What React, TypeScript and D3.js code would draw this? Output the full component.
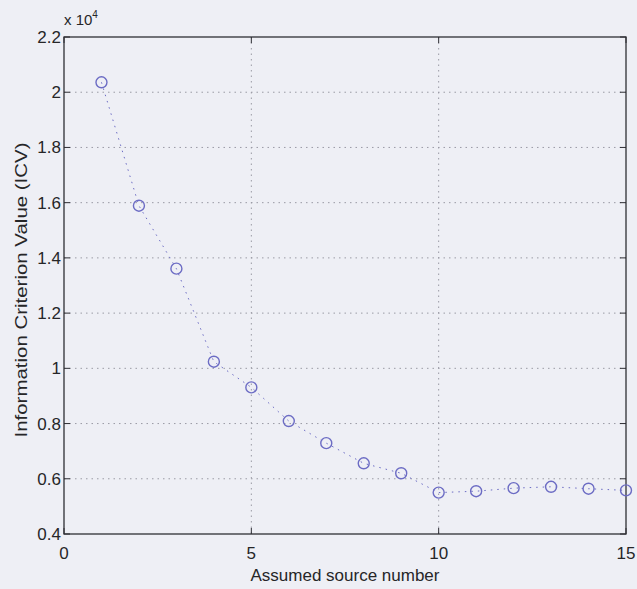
import React from "react";
import * as d3 from "d3";

const sourceNumbers = [1, 2, 3, 4, 5, 6, 7, 8, 9, 10, 11, 12, 13, 14, 15];
const icvValues = [20360, 15890, 13610, 10240, 9310, 8090, 7290, 6560, 6200, 5500, 5550, 5660, 5710, 5640, 5580];
const xTicks = [0, 5, 10, 15];
const yTicks = [4000, 6000, 8000, 10000, 12000, 14000, 16000, 18000, 20000, 22000];
const yTickLabels = ["0.4", "0.6", "0.8", "1", "1.2", "1.4", "1.6", "1.8", "2", "2.2"];

const W = 637, H = 589;
const L = 64, R = 626, T = 37, B = 534;
const font = "'Liberation Sans', Arial, sans-serif";

export default function App() {
  const x = d3.scaleLinear().domain([0, 15]).range([L, R]);
  const y = d3.scaleLinear().domain([4000, 22000]).range([B, T]);
  const line = d3.line<number>().x((_, i) => x(sourceNumbers[i])).y((d) => y(d));
  const axisColor = "#2e2e34";
  const gridColor = "#9a9aa4";
  const marker = "#6c6cc4";
  const textColor = "#262628";
  return (
    <svg width={W} height={H} style={{ position: "absolute", left: 0, top: 0 }} fontFamily={font}>
      <rect x={0} y={0} width={W} height={H} fill="#eeeff5" />
      {xTicks.slice(1, -1).map((t) => (
        <line key={"gx" + t} x1={x(t)} x2={x(t)} y1={T} y2={B} stroke={gridColor} strokeWidth={1} strokeDasharray="1.5,4" />
      ))}
      {yTicks.slice(1, -1).map((t) => (
        <line key={"gy" + t} x1={L} x2={R} y1={y(t)} y2={y(t)} stroke={gridColor} strokeWidth={1} strokeDasharray="1.5,4" />
      ))}
      {xTicks.map((t) => (
        <g key={"tx" + t}>
          <line x1={x(t)} x2={x(t)} y1={B} y2={B - 6} stroke={axisColor} />
          <line x1={x(t)} x2={x(t)} y1={T} y2={T + 6} stroke={axisColor} />
          <text x={x(t)} y={B + 25} fontSize={17} fill={textColor} textAnchor="middle">{t}</text>
        </g>
      ))}
      {yTicks.map((t, i) => (
        <g key={"ty" + t}>
          <line x1={L} x2={L + 6} y1={y(t)} y2={y(t)} stroke={axisColor} />
          <line x1={R} x2={R - 6} y1={y(t)} y2={y(t)} stroke={axisColor} />
          <text x={L - 3} y={y(t) + 6} fontSize={17} fill={textColor} textAnchor="end">{yTickLabels[i]}</text>
        </g>
      ))}
      <rect x={L} y={T} width={R - L} height={B - T} fill="none" stroke={axisColor} strokeWidth={1.3} />
      <path d={line(icvValues) || ""} fill="none" stroke={marker} strokeWidth={1} strokeDasharray="1.5,5" />
      {icvValues.map((v, i) => (
        <circle key={i} cx={x(sourceNumbers[i])} cy={y(v)} r={5.5} fill="none" stroke={marker} strokeWidth={1.4} />
      ))}
      <text x={L} y={25} fontSize={15} fill={textColor}>x 10<tspan dy={-7} fontSize={10}>4</tspan></text>
      <text x={(L + R) / 2} y={581} fontSize={17} fill={textColor} textAnchor="middle">Assumed source number</text>
      <text transform={`translate(27,290) rotate(-90)`} fontSize={17} fill={textColor} textAnchor="middle" textLength={295} lengthAdjust="spacingAndGlyphs">Information Criterion Value (ICV)</text>
    </svg>
  );
}
